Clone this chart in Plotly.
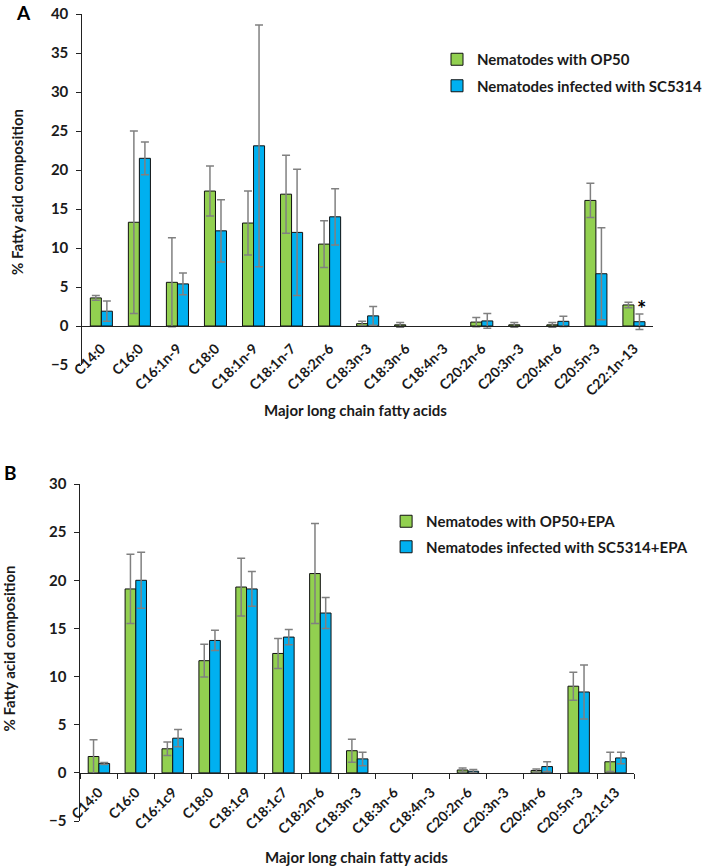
import plotly.graph_objects as go

# ---------------- data ----------------
cats_A = ["C14:0", "C16:0", "C16:1n-9", "C18:0", "C18:1n-9", "C18:1n-7", "C18:2n-6",
          "C18:3n-3", "C18:3n-6", "C18:4n-3", "C20:2n-6", "C20:3n-3", "C20:4n-6",
          "C20:5n-3", "C22:1n-13"]
op50_A = [3.6, 13.3, 5.6, 17.3, 13.2, 16.9, 10.5, 0.3, 0.15, None, 0.5, 0.15, 0.15, 16.1, 2.7]
op50_err_A = [0.3, 11.7, 5.7, 3.2, 4.1, 5.0, 3.0, 0.3, 0.3, 0.0, 0.6, 0.3, 0.3, 2.2, 0.35]
sc_A = [1.9, 21.5, 5.4, 12.2, 23.1, 12.0, 14.0, 1.3, None, None, 0.65, None, 0.6, 6.7, 0.55]
sc_err_A = [1.3, 2.1, 1.4, 4.0, 15.5, 8.1, 3.6, 1.2, 0.0, 0.0, 0.95, 0.0, 0.65, 5.9, 1.0]

cats_B = ["C14:0", "C16:0", "C16:1c9", "C18:0", "C18:1c9", "C18:1c7", "C18:2n-6",
          "C18:3n-3", "C18:3n-6", "C18:4n-3", "C20:2n-6", "C20:3n-3", "C20:4n-6",
          "C20:5n-3", "C22:1c13"]
op50_B = [1.7, 19.1, 2.5, 11.65, 19.3, 12.4, 20.7, 2.3, None, None, 0.3, None, 0.25, 9.0, 1.15]
op50_err_B = [1.75, 3.6, 0.7, 1.7, 3.0, 1.55, 5.2, 1.2, 0.0, 0.0, 0.2, 0.0, 0.15, 1.45, 1.0]
sc_B = [0.97, 20.0, 3.6, 13.75, 19.1, 14.1, 16.6, 1.45, None, None, 0.17, None, 0.65, 8.4, 1.55]
sc_err_B = [0.1, 2.9, 0.9, 1.05, 1.8, 0.8, 1.6, 0.7, 0.0, 0.0, 0.17, 0.0, 0.5, 2.8, 0.6]

names_A = ["Nematodes with OP50", "Nematodes infected with SC5314"]
names_B = ["Nematodes with OP50+EPA", "Nematodes infected with SC5314+EPA"]

GREEN = "#92D050"
BLUE = "#00B0F0"
ERR = "#808080"
FONT = "Lato"
TXT = "#1a1a1a"

W, H = 708, 868

def px_x(p):
    return p / W

def px_y(p):
    return 1 - p / H

rangeA = [-5, 40]
rangeB = [-5, 30]
domA_x = [px_x(87), px_x(690)]
domA_y = [px_y(365), px_y(14)]
domB_x = [px_x(85), px_x(670)]
domB_y = [px_y(821), px_y(484)]

def zero_pos(dom, rng):
    return dom[0] + (0 - rng[0]) / (rng[1] - rng[0]) * (dom[1] - dom[0])

fig = go.Figure()

def add_bars(cats, vals, errs, name, color, xa, ya, legend, group):
    fig.add_trace(go.Bar(
        x=cats, y=vals, name=name, xaxis=xa, yaxis=ya, legend=legend,
        legendgroup=group,
        marker=dict(color=color, line=dict(color="#111111", width=1)),
        error_y=dict(type="data", array=errs, visible=True, color=ERR,
                     thickness=1.5, width=4),
    ))

add_bars(cats_A, op50_A, op50_err_A, names_A[0], GREEN, "x", "y", "legend", "a1")
add_bars(cats_A, sc_A, sc_err_A, names_A[1], BLUE, "x", "y", "legend", "a2")
add_bars(cats_B, op50_B, op50_err_B, names_B[0], GREEN, "x2", "y2", "legend2", "b1")
add_bars(cats_B, sc_B, sc_err_B, names_B[1], BLUE, "x2", "y2", "legend2", "b2")

xtickfont = dict(family=FONT, size=14, color=TXT, weight="bold")
ytickfont = dict(family=FONT, size=15, color=TXT, weight="bold")

common_x = dict(type="category", showline=True, linecolor="#222222", linewidth=1,
                tickangle=-45, tickfont=xtickfont, showgrid=False, automargin=False)
common_y = dict(dtick=5, tick0=0, showline=True, linecolor="#222222", linewidth=1,
                ticks="outside", ticklen=5, tickcolor="#222222", tickfont=ytickfont,
                showgrid=False, zeroline=False, automargin=False,
                ticklabelstandoff=5)

fig.update_layout(
    width=W, height=H,
    margin=dict(l=0, r=0, t=0, b=0),
    paper_bgcolor="white", plot_bgcolor="white",
    barmode="group", bargap=0.42, bargroupgap=0,
    font=dict(family=FONT, color=TXT),
    xaxis=dict(domain=domA_x, anchor="free", position=zero_pos(domA_y, rangeA),
               ticks="", ticklabelstandoff=8, range=[-0.5, len(cats_A) - 0.5],
               **common_x),
    yaxis=dict(domain=domA_y, anchor="x", range=rangeA, **common_y),
    xaxis2=dict(domain=domB_x, anchor="free", position=zero_pos(domB_y, rangeB),
                ticks="outside", ticklen=5, tickcolor="#222222", tickson="boundaries",
                ticklabelstandoff=5, range=[-0.5, len(cats_B) - 0.5], **common_x),
    yaxis2=dict(domain=domB_y, anchor="x2", range=rangeB, **common_y),
    legend=dict(x=px_x(462), y=px_y(43), xanchor="left", yanchor="top",
                font=dict(family=FONT, size=15, color=TXT, weight="bold"),
                traceorder="grouped", tracegroupgap=4, bgcolor="rgba(0,0,0,0)"),
    legend2=dict(x=px_x(408), y=px_y(505), xanchor="left", yanchor="top",
                 font=dict(family=FONT, size=15, color=TXT, weight="bold"),
                 traceorder="grouped", tracegroupgap=3, bgcolor="rgba(0,0,0,0)"),
)

ann_font = dict(family=FONT, size=15, color=TXT, weight="bold")

def pann(text, x, y, font, angle=0):
    return dict(text=text, x=px_x(x), y=px_y(y), xref="paper", yref="paper",
                xanchor="center", yanchor="middle", textangle=angle,
                showarrow=False, font=font)

label_font = dict(family=FONT, size=19, color="#000", weight="bold")
annotations = [
    pann("A", 25, 12, label_font),
    pann("B", 11, 472, label_font),
    pann("% Fatty acid composition", 18, 192, ann_font, -90),
    pann("% Fatty acid composition", 9, 649, ann_font, -90),
    pann("Major long chain fatty acids", 376, 410, ann_font),
    pann("Major long chain fatty acids", 377, 857, ann_font),
    dict(text="*", x=cats_A[-1], y=sc_A[-1] + sc_err_A[-1], xref="x", yref="y",
         xanchor="center", xshift=8, yshift=-10, yanchor="bottom", showarrow=False,
         font=dict(family=FONT, size=22, color="#000", weight="bold")),
]
fig.update_layout(annotations=annotations)

fig.write_html("out.html")
